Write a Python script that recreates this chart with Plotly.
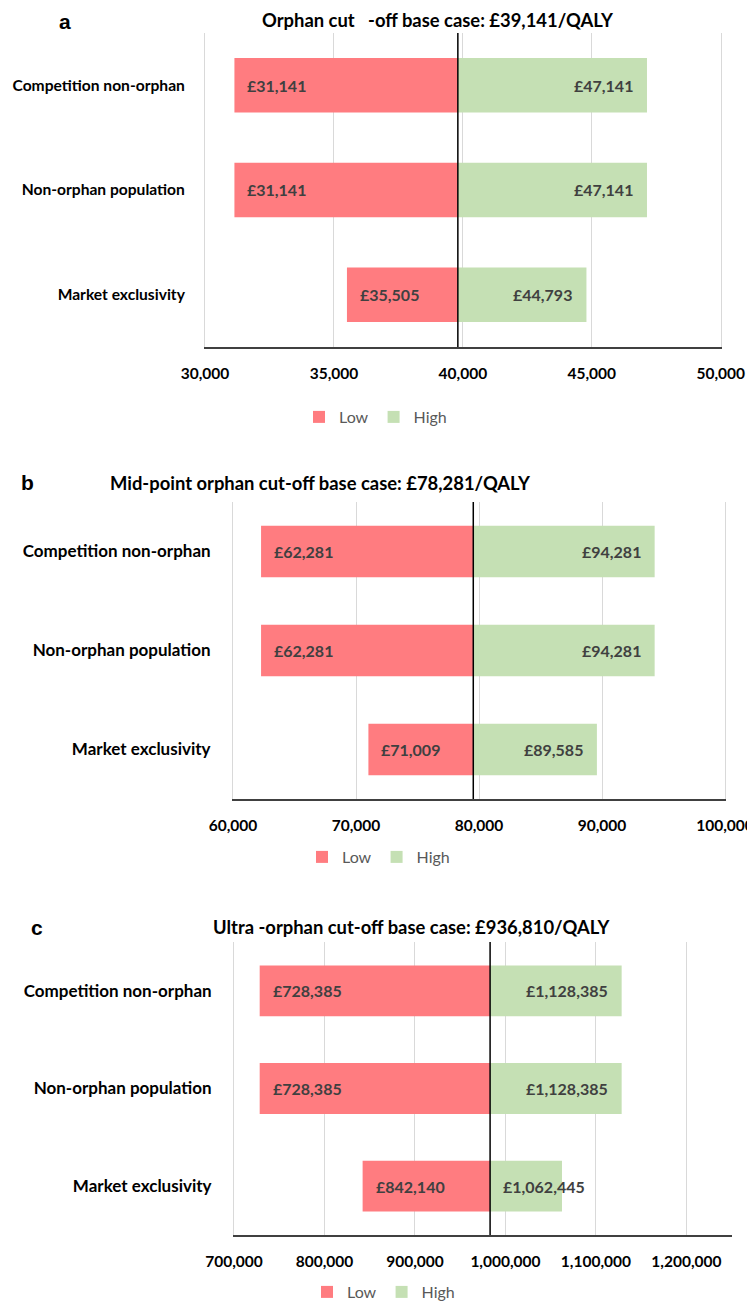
import plotly.graph_objects as go

# ---------------- data ----------------
categories = ["Competition non-orphan", "Non-orphan population", "Market exclusivity"]

panel_letters = ["a", "b", "c"]
panel_titles = [
    "Orphan cut   -off base case: £39,141/QALY",
    "Mid-point orphan cut-off base case: £78,281/QALY",
    "Ultra -orphan cut-off base case: £936,810/QALY",
]

low_a = [31141, 31141, 35505]
high_a = [47141, 47141, 44793]
low_b = [62281, 62281, 71009]
high_b = [94281, 94281, 89585]
low_c = [728385, 728385, 842140]
high_c = [1128385, 1128385, 1062445]

# where the dividing (base) line is drawn in each panel
divider_a = 39806
divider_b = 79535
divider_c = 983000

ticks_a = [30000, 35000, 40000, 45000, 50000]
ticks_b = [60000, 70000, 80000, 90000, 100000]
ticks_c = [700000, 800000, 900000, 1000000, 1100000, 1200000]

series_names = ["Low", "High"]

# ---------------- styling / layout ----------------
PAGE_OFFSET = 8          # default body margin of the html page
W, H = 755 - PAGE_OFFSET, 1303 - PAGE_OFFSET
LOW_COLOR = "#FF7C80"
HIGH_COLOR = "#C5E0B4"
FONT = "Lato"

# positions below are in page pixels of the target picture
panels = [
    dict(low=low_a, high=high_a, div=divider_a, ticks=ticks_a, rng=[30000, 50000],
         px=(205, 720.7), py=(33, 347), mirror=True, cat_size=15.6, standoff=16,
         letter_xy=(65, 21), title_xy=(438, 20), legend_xy=(319, 417)),
    dict(low=low_b, high=high_b, div=divider_b, ticks=ticks_b, rng=[60000, 100000],
         px=(233, 725), py=(502, 799), mirror=True, cat_size=17, standoff=18,
         letter_xy=(27, 483), title_xy=(320, 483), legend_xy=(322, 857)),
    dict(low=low_c, high=high_c, div=divider_c, ticks=ticks_c, rng=[700000, 1250000],
         px=(234, 731.7), py=(942, 1235), mirror=False, cat_size=17, standoff=18,
         letter_xy=(37, 927), title_xy=(411, 927), legend_xy=(327, 1292)),
]


def fx(px):
    return (px - PAGE_OFFSET) / W


def fy(py):
    return 1 - (py - PAGE_OFFSET) / H


fig = go.Figure()
annotations = []
shapes = []
layout_axes = {}

for i, p in enumerate(panels):
    n = "" if i == 0 else str(i + 1)
    xa, ya = "x" + n, "y" + n
    legend_name = "legend" + n
    low, high, div = p["low"], p["high"], p["div"]

    fig.add_trace(go.Bar(
        y=categories, x=[div - v for v in low], base=low, orientation="h",
        name=series_names[0], marker=dict(color=LOW_COLOR, line=dict(width=0)),
        width=0.52, xaxis=xa, yaxis=ya, legend=legend_name, hoverinfo="skip",
    ))
    fig.add_trace(go.Bar(
        y=categories, x=[v - div for v in high], base=[div] * len(high), orientation="h",
        name=series_names[1], marker=dict(color=HIGH_COLOR, line=dict(width=0)),
        width=0.52, xaxis=xa, yaxis=ya, legend=legend_name, hoverinfo="skip",
    ))

    plot_w = p["px"][1] - p["px"][0]
    span = p["rng"][1] - p["rng"][0]
    label_font = dict(family=FONT, size=16, color="#404040", weight="bold")

    # data labels
    for cat, lv, hv in zip(categories, low, high):
        annotations.append(dict(
            x=lv, y=cat, xref=xa, yref=ya, text=f"£{lv:,}", showarrow=False,
            xanchor="left", xshift=11, font=label_font,
        ))
        label = f"£{hv:,}"
        bar_px = (hv - div) / span * plot_w
        if bar_px < len(label) * 8.6 + 20:
            annotations.append(dict(
                x=div, y=cat, xref=xa, yref=ya, text=label, showarrow=False,
                xanchor="left", xshift=11, font=label_font,
            ))
        else:
            annotations.append(dict(
                x=hv, y=cat, xref=xa, yref=ya, text=label, showarrow=False,
                xanchor="right", xshift=-12, font=label_font,
            ))

    # panel letter and title
    lx, ly = p["letter_xy"]
    annotations.append(dict(
        x=fx(lx), y=fy(ly), xref="paper", yref="paper", text=panel_letters[i],
        showarrow=False, xanchor="center", yanchor="middle",
        font=dict(family="Liberation Sans", size=21, color="black", weight="bold"),
    ))
    tx, ty = p["title_xy"]
    annotations.append(dict(
        x=fx(tx), y=fy(ty), xref="paper", yref="paper", text=panel_titles[i],
        showarrow=False, xanchor="center", yanchor="middle",
        font=dict(family=FONT, size=18.4, color="black", weight="bold"),
    ))

    # base line
    shapes.append(dict(
        type="line", xref=xa, yref=ya + " domain", x0=div, x1=div, y0=0, y1=1,
        line=dict(color="black", width=1.5), layer="above",
    ))

    layout_axes["xaxis" + n] = dict(
        domain=[fx(p["px"][0]), fx(p["px"][1])], range=p["rng"], anchor=ya,
        tickmode="array", tickvals=p["ticks"], ticktext=[f"{t:,}" for t in p["ticks"]],
        showgrid=True, gridcolor="#D9D9D9", gridwidth=1, zeroline=False,
        showline=True, linecolor="#404040", linewidth=1.5, ticks="",
        ticklabelstandoff=12, automargin=False,
        tickfont=dict(family=FONT, size=15.5, color="black", weight="bold"),
        fixedrange=True,
    )
    layout_axes["yaxis" + n] = dict(
        domain=[fy(p["py"][1]), fy(p["py"][0])], anchor=xa,
        type="category", categoryorder="array", categoryarray=categories,
        autorange="reversed", showgrid=False, zeroline=False,
        showline=True, linecolor="#D9D9D9", linewidth=1, mirror=p["mirror"],
        ticks="", ticklabelstandoff=p["standoff"], automargin=False,
        tickfont=dict(family=FONT, size=p["cat_size"], color="black", weight="bold"),
        fixedrange=True,
    )
    lgx, lgy = p["legend_xy"]
    layout_axes[legend_name] = dict(
        orientation="h", x=fx(lgx - 20), y=fy(lgy), xanchor="left", yanchor="middle",
        font=dict(family=FONT, size=16, color="#595959"),
        bgcolor="rgba(0,0,0,0)", itemwidth=30, traceorder="normal",
        itemclick=False, itemdoubleclick=False,
    )

fig.update_layout(
    width=W, height=H,
    margin=dict(l=0, r=0, t=0, b=0, autoexpand=False),
    paper_bgcolor="white", plot_bgcolor="white",
    barmode="overlay",
    annotations=annotations, shapes=shapes,
    showlegend=True,
    **layout_axes,
)

fig.write_html("out.html")
